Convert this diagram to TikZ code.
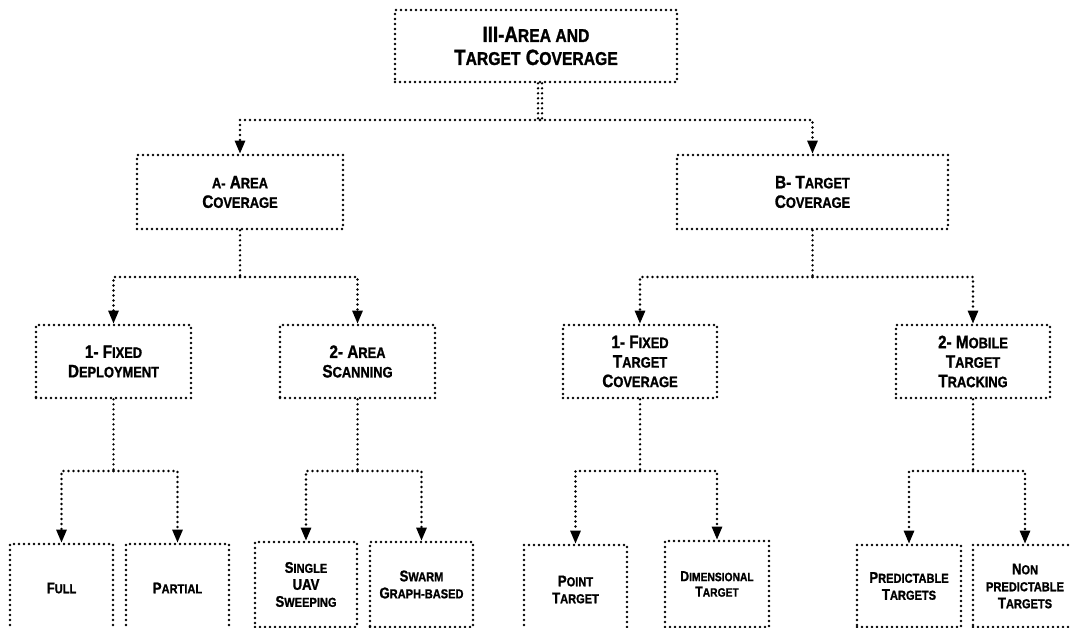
\documentclass[tikz,border=0pt]{standalone}
\usepackage{fontspec}
\setmainfont{Liberation Sans}[FakeStretch=0.85, BoldFeatures={FakeBold=1.2}]
\usepackage{graphicx}
\usetikzlibrary{arrows.meta}
\newcommand\Sc[2]{#1\scalebox{0.84}{#2}}
\newcommand\Sm[1]{\scalebox{0.84}{#1}}
\tikzset{
  dotline/.style={line width=2.6pt, dash pattern=on 0pt off 5pt, line cap=round},
  box/.style={draw, dotline, align=center, inner sep=0pt, font=\bfseries\fontsize{18}{19.5}\selectfont},
  topbox/.style={box, font=\bfseries\fontsize{22}{23}\selectfont},
  leaf/.style={box, font=\bfseries\fontsize{15.5}{17}\selectfont},
  conn/.style={dotline},
  arr/.style={dotline, -{Triangle[width=10pt,length=13pt]}},
}
\begin{document}
\begin{tikzpicture}[x=1pt,y=-1pt]
\useasboundingbox (0,0) rectangle (1070,628);
\clip (0,0) rectangle (1070,628);
% level 0
\node[topbox, minimum width=282, minimum height=72] (top) at (536,46) {III-\Sc{A}{REA AND}\\\Sc{T}{ARGET} \Sc{C}{OVERAGE}};
% level 1
\node[box, minimum width=206, minimum height=74] (A) at (240,192) {\Sm{A-} \Sc{A}{REA}\\\Sc{C}{OVERAGE}};
\node[box, minimum width=271, minimum height=74] (B) at (812.5,192) {B- \Sc{T}{ARGET}\\\Sc{C}{OVERAGE}};
% level 2
\node[box, minimum width=155, minimum height=73] (FD) at (113.5,361.5) {1- \Sc{F}{IXED}\\\Sc{D}{EPLOYMENT}};
\node[box, minimum width=155, minimum height=73] (AS) at (357.5,361.5) {2- \Sc{A}{REA}\\\Sc{S}{CANNING}};
\node[box, minimum width=154, minimum height=73] (FT) at (640,361.5) {1- \Sc{F}{IXED}\\\Sc{T}{ARGET}\\\Sc{C}{OVERAGE}};
\node[box, minimum width=154, minimum height=73] (MT) at (973,361.5) {2- \Sc{M}{OBILE}\\\Sc{T}{ARGET}\\\Sc{T}{RACKING}};
% level 3
\node[leaf, minimum width=103, minimum height=88] (full) at (61.5,588) {\Sc{F}{ULL}};
\node[leaf, minimum width=103, minimum height=88] (part) at (177.5,588) {\Sc{P}{ARTIAL}};
\node[leaf, minimum width=102, minimum height=85] (single) at (306,584.5) {\Sc{S}{INGLE}\\UAV\\\Sc{S}{WEEPING}};
\node[leaf, minimum width=103, minimum height=85] (swarm) at (421.5,584.5) {\Sc{S}{WARM}\\\Sc{G}{RAPH-BASED}};
\node[leaf, minimum width=103, minimum height=89] (point) at (575.5,589.5) {\Sc{P}{OINT}\\\Sc{T}{ARGET}};
\node[leaf, minimum width=104, minimum height=86, font=\bfseries\fontsize{14.4}{15.5}\selectfont] (dim) at (717,584) {\Sc{D}{IMENSIONAL}\\\Sc{T}{ARGET}};
\node[leaf, minimum width=104, minimum height=82] (pred) at (909,586) {\Sc{P}{REDICTABLE}\\\Sc{T}{ARGETS}};
\node[leaf, minimum width=104, minimum height=82] (non) at (1025,586) {\Sc{N}{ON}\\\Sm{PREDICTABLE}\\\Sc{T}{ARGETS}};
% junctions
\coordinate (j0) at (540,120);
\coordinate (jA) at (240,277);
\coordinate (jB) at (812.5,277);
\coordinate (jFD) at (113.5,471);
\coordinate (jAS) at (357.5,471);
\coordinate (jFT) at (640,471);
\coordinate (jMT) at (973,471);
% connectors
\draw[conn] ([xshift=2pt]top.south) -- ([xshift=2pt]top.south |- j0);
\draw[conn] ([xshift=6pt]top.south) -- ([xshift=6pt]top.south |- j0);
\draw[arr] (j0) -| (A.north);
\draw[arr] (j0) -| (B.north);
\draw[conn] (A.south) -- (jA);
\draw[arr] (jA) -| (FD.north);
\draw[arr] (jA) -| (AS.north);
\draw[conn] (B.south) -- (jB);
\draw[arr] (jB) -| (FT.north);
\draw[arr] (jB) -| (MT.north);
\draw[conn] (FD.south) -- (jFD);
\draw[arr] (jFD) -| (full.north);
\draw[arr] (jFD) -| (part.north);
\draw[conn] (AS.south) -- (jAS);
\draw[arr] (jAS) -| (single.north);
\draw[arr] (jAS) -| (swarm.north);
\draw[conn] (FT.south) -- (jFT);
\draw[arr] (jFT) -| (point.north);
\draw[arr] (jFT) -| (dim.north);
\draw[conn] (MT.south) -- (jMT);
\draw[arr] (jMT) -| (pred.north);
\draw[arr] (jMT) -| (non.north);
\end{tikzpicture}
\end{document}
